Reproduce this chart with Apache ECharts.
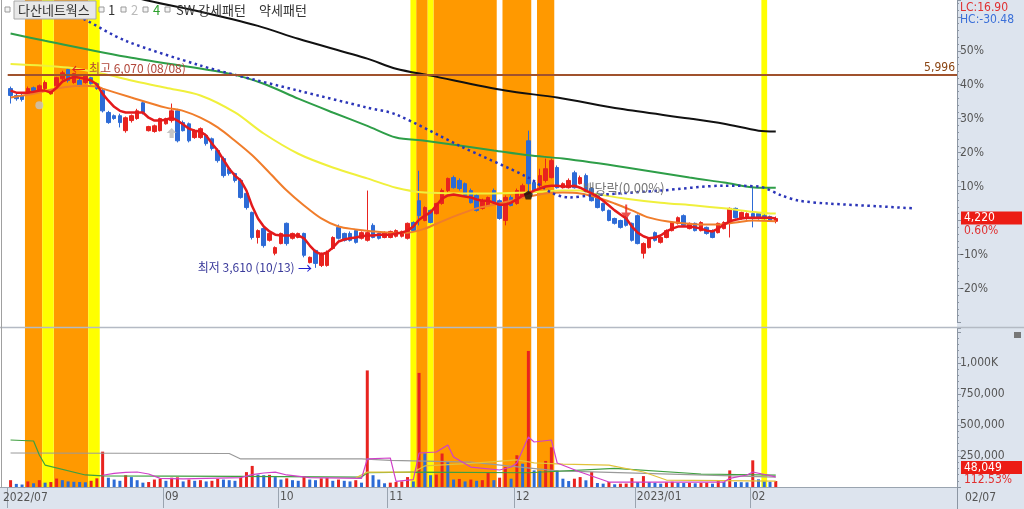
<!DOCTYPE html>
<html><head><meta charset="utf-8">
<script src="https://cdn.jsdelivr.net/npm/echarts@6.0.0/dist/echarts.min.js"></script>
<style>html,body{margin:0;padding:0;background:#fff}#c{width:1024px;height:509px}</style>
</head><body><div id="c"></div>
<script>
// ---------------- DATA ----------------
const holidays = ['2022-08-15','2022-09-09','2022-09-12','2022-10-03','2022-10-10','2022-12-30','2023-01-23','2023-01-24'];
const firstDay = '2022-07-25', lastDay = '2023-02-07';
const futureSlots = 31;
const tickLabels = {'2022-07-25':'2022/07','2022-09-01':'09','2022-10-04':'10','2022-11-01':'11','2022-12-01':'12','2023-01-02':'2023/01','2023-02-01':'02'};
const basePrice = 4195;

const opens = [5825,5740,5740,5760,5835,5800,5825,5760,5860,5945,6060,5900,5925,5900,5960,5885,5800,5530,5490,5490,5305,5430,5455,5650,5305,5295,5305,5390,5430,5550,5405,5390,5220,5220,5245,5205,5060,4960,4835,4775,4690,4530,4295,3985,4095,3950,3790,3910,4160,3975,3985,4035,3675,3825,3640,3640,3850,4110,4035,4035,4070,3975,3950,4135,4035,3985,3985,4000,4000,3975,4170,4440,4195,4320,4280,4405,4565,4725,4690,4650,4565,4505,4345,4380,4565,4440,4195,4480,4405,4480,5180,4665,4625,4690,4725,4850,4600,4600,4785,4650,4750,4590,4530,4405,4320,4220,4195,4230,4160,4255,3790,3860,4045,3925,3985,4070,4160,4255,4095,4160,4070,4110,4070,4045,4095,4160,4345,4220,4220,4280,4280,4255,4245,4185];
const closes = [5740,5700,5690,5825,5800,5860,5900,5800,5960,6020,5925,6010,5860,5985,5885,5825,5550,5405,5455,5405,5465,5490,5550,5530,5355,5365,5455,5455,5550,5180,5305,5180,5305,5330,5145,5085,4935,4750,4775,4690,4480,4355,3985,4070,3885,4035,3860,4035,3910,4035,4035,3765,3740,3665,3790,3800,3985,3975,3950,3950,3925,4045,4045,3985,3975,4045,4060,4070,4060,4160,4070,4255,4355,4170,4405,4565,4715,4600,4590,4505,4415,4320,4440,4480,4415,4220,4480,4380,4565,4625,4650,4565,4750,4835,4935,4600,4650,4690,4600,4725,4565,4440,4355,4320,4195,4160,4110,4135,3950,3910,3910,3975,3950,3985,4070,4170,4230,4135,4160,4070,4170,4035,3985,4160,4170,4345,4230,4295,4280,4220,4220,4220,4195,4220];
const lows = [5640,5675,5665,5750,5785,5785,5810,5750,5850,5925,5900,5885,5850,5885,5875,5810,5530,5390,5440,5345,5280,5405,5440,5505,5295,5280,5295,5380,5405,5160,5295,5160,5205,5205,5120,5060,4910,4725,4750,4665,4465,4330,3960,3910,3860,3935,3765,3900,3885,3960,3975,3740,3665,3610,3620,3625,3835,3960,3935,3935,3910,3960,3935,3975,3960,3975,3975,3985,3985,3960,4060,4135,4185,4160,4270,4390,4540,4590,4565,4490,4405,4305,4330,4370,4405,4205,4135,4370,4390,4465,4540,4540,4600,4665,4715,4590,4590,4590,4590,4640,4540,4430,4345,4305,4185,4145,4095,4120,3935,3900,3725,3850,3935,3910,3975,4060,4145,4120,4085,4060,4060,4020,3975,4035,4085,3985,4220,4205,4205,4110,4205,4205,4185,4160];
const highs = [5850,5760,5760,5850,5850,5875,5925,5810,5970,6045,6070,6020,5945,5995,5970,5900,5825,5550,5505,5515,5480,5505,5575,5675,5365,5380,5465,5465,5640,5575,5430,5405,5320,5345,5270,5220,5085,4985,4850,4785,4715,4540,4305,4085,4110,4045,3875,4045,4170,4045,4045,4045,3750,3835,3800,3825,4000,4145,4045,4060,4085,4060,4565,4160,4045,4060,4070,4085,4070,4170,4185,4810,4370,4330,4415,4590,4725,4750,4715,4665,4590,4530,4465,4490,4590,4455,4505,4505,4590,4650,5305,4690,4835,4960,4960,4875,4665,4715,4810,4750,4775,4600,4540,4415,4330,4230,4205,4255,4170,4270,3925,3985,4060,4000,4085,4185,4245,4270,4170,4170,4185,4120,4085,4170,4185,4355,4355,4305,4295,4600,4295,4270,4255,4245];
const volumes = [55000,25000,20000,45000,30000,55000,35000,40000,68000,55000,45000,42000,40000,38000,50000,70000,285000,75000,60000,50000,95000,80000,55000,35000,40000,60000,65000,50000,75000,78000,45000,60000,50000,55000,45000,50000,65000,60000,55000,50000,75000,120000,170000,100000,95000,98000,80000,60000,70000,55000,50000,85000,60000,55000,70000,72000,50000,60000,50000,45000,55000,35000,940000,95000,60000,30000,35000,40000,45000,80000,45000,920000,270000,95000,100000,270000,200000,60000,65000,45000,60000,50000,55000,120000,55000,75000,160000,67000,256000,188000,1097000,134000,130000,210000,320000,134000,67000,48000,67000,80000,54000,121000,32000,27000,40000,22000,27000,28000,72000,40000,88000,40000,35000,27000,38000,42000,35000,32000,33000,30000,32000,35000,27000,48000,40000,134000,40000,39000,38000,215000,62000,45000,42699,48049];

const ma5 = [5800,5775,5775,5775,5785,5800,5800,5775,5835,5910,5945,5970,5960,5945,5925,5875,5760,5675,5600,5550,5530,5530,5530,5530,5465,5430,5430,5440,5465,5430,5380,5330,5305,5295,5245,5145,5060,4945,4835,4750,4690,4565,4370,4220,4120,4060,4020,4010,4010,4010,4010,3975,3885,3810,3775,3800,3860,3935,3960,3975,3985,4000,4010,4010,4020,4020,4020,4035,4045,4070,4120,4205,4255,4295,4380,4465,4505,4515,4505,4490,4480,4455,4440,4440,4415,4390,4390,4415,4455,4505,4530,4565,4590,4615,4625,4625,4615,4615,4625,4600,4565,4530,4490,4440,4380,4320,4270,4220,4120,4045,4000,3975,3985,4010,4060,4095,4120,4120,4120,4110,4095,4070,4060,4095,4145,4185,4205,4220,4230,4230,4230,4230,4230,4220];
const ma20 = [[0,5715],[4,5760],[8,5825],[12,5860],[15,5850],[16,5825],[21,5715],[27,5590],[30,5550],[33,5465],[36,5345],[39,5180],[42,5000],[45,4785],[48,4565],[51,4380],[54,4220],[57,4120],[60,4085],[63,4060],[66,4045],[69,4045],[72,4095],[75,4185],[78,4270],[81,4345],[84,4390],[87,4440],[90,4490],[93,4530],[96,4540],[99,4530],[102,4480],[105,4405],[108,4320],[111,4230],[114,4185],[117,4160],[120,4145],[123,4145],[126,4170],[129,4195],[133,4185]];
const ma60 = [[0,6130],[10,6085],[16,6010],[21,5925],[27,5835],[33,5740],[39,5530],[44,5270],[50,5020],[56,4850],[62,4715],[67,4600],[72,4540],[78,4530],[84,4530],[90,4540],[96,4565],[99,4565],[101,4530],[107,4465],[113,4415],[119,4380],[124,4345],[130,4295],[133,4280]];
const ma120 = [[0,6505],[6,6415],[21,6205],[38,6010],[44,5885],[50,5700],[56,5530],[62,5365],[67,5220],[72,5180],[84,5060],[90,5000],[96,4960],[107,4850],[118,4725],[124,4665],[130,4600],[133,4600]];
const ma240 = [[10,7160],[24,6910],[33,6775],[43,6600],[50,6440],[62,6195],[67,6070],[73,5985],[86,5800],[95,5715],[106,5575],[118,5455],[124,5390],[130,5305],[133,5295]];
const leadSpan = [[8,6850],[13,6675],[20,6415],[33,6110],[39,5995],[50,5800],[62,5590],[67,5505],[78,5120],[90,4725],[94,4540],[97,4480],[101,4505],[113,4565],[124,4625],[130,4615],[134,4505],[137,4440],[142,4405],[151,4370],[157,4345]];

const volMa5 = [[16,95000],[18,110000],[20,118000],[22,121000],[24,105000],[26,70000],[30,65000],[40,75000],[42,100000],[44,113000],[46,120000],[48,97000],[52,75000],[61,70000],[62,226000],[66,234000],[67,45000],[70,60000],[71,274000],[74,282000],[76,339000],[77,242000],[80,161000],[85,137000],[87,161000],[88,194000],[90,403000],[91,363000],[94,379000],[95,194000],[99,121000],[104,40000],[124,40000],[125,70000],[128,97000],[129,121000],[133,81000]];
const volMa20 = [[60,75000],[62,120000],[70,120000],[72,170000],[80,190000],[88,218000],[91,194000],[96,185000],[104,177000],[110,121000],[114,56000],[133,48000]];
const volMa60 = [[0,379000],[4,371000],[5,258000],[6,177000],[13,97000],[16,89000],[40,85000],[61,80000],[62,115000],[70,120000],[90,115000],[105,150000],[120,105000],[133,95000]];
const volMa120 = [[0,274000],[38,270000],[40,226000],[61,226000],[66,215000],[80,200000],[95,130000],[133,80000]];

const orangeBands = [[3,5],[8,13],[71,72],[74,84],[86,90],[92,94]];
const yellowBands = [[6,7],[14,15],[70,70],[73,73],[131,131]];

const markers = [
  {i:5, p:5620, kind:'dot'},
  {i:28, p:5275, kind:'up'},
  {i:90, p:4510, kind:'pent'},
  {i:107, p:4300, kind:'down'}
];
const highMark = {i:10, p:6070, text:'최고 6,070 (08/08)'};
const lowMark = {i:53, p:3610, text:'최저 3,610 (10/13)'};
const divMark = {i:99, p:4600, text:'배당락(0.00%)'};
const refLine = 5996;
const lastClose = 4220, lastPct = '0.60%', lastVol = '48,049', volPct = '112.53%';
const lcText = 'LC:16.90', hcText = 'HC:-30.48', curDate = '02/07';

// ---------------- BUILD ----------------
function buildDates(){
  const out=[]; let t=Date.parse(firstDay+'T00:00:00Z'); const end=Date.parse(lastDay+'T00:00:00Z');
  while(t<=end){ const d=new Date(t); const wd=d.getUTCDay(); const s=d.toISOString().slice(0,10);
    if(wd!==0&&wd!==6&&holidays.indexOf(s)<0) out.push(s); t+=86400000; }
  return out;
}
const dates = buildDates();
const cats = dates.slice();
for(let k=0;k<futureSlots;k++) cats.push('f'+k);
const labelIdx = {};
cats.forEach((c,i)=>{ if(tickLabels[c]) labelIdx[i]=tickLabels[c]; });

const UP='#e8231f', DOWN='#2d6bd6', ORANGE='#ff9900', YELLOW='#ffff00';
const NARROW="'Liberation Sans Narrow','DejaVu Sans Condensed','Liberation Sans',sans-serif";
const KR="'Noto Sans CJK KR','Noto Sans',sans-serif";

const bandRanges = orangeBands.map(r=>[r[0],r[1],0]).concat(yellowBands.map(r=>[r[0],r[1],1]));
const bandRender = (params, api)=>{
  const s=api.value(0), e=api.value(1);
  const p0=api.coord([s,0]), p1=api.coord([e,1]);
  const w=api.size([1,0])[0];
  return {type:'rect',shape:{x:p0[0]-w/2,y:p1[1],width:p1[0]-p0[0]+w,height:p0[1]-p1[1]},
    style:{fill:api.value(2)===0?ORANGE:YELLOW}};
};
const ohlc = opens.map((o,i)=>[o,closes[i],lows[i],highs[i]]);
const volData = volumes.map((v,i)=>({value:v,itemStyle:{color:(i===0||v>=volumes[i-1])?UP:DOWN}}));

const symPath = {
  dot:'circle',
  up:'path://M0,-6 L6,0 L2.5,0 L2.5,6 L-2.5,6 L-2.5,0 L-6,0 Z',
  pent:'path://M0,-5 L5,-1.5 L3,5 L-3,5 L-5,-1.5 Z',
  down:'path://M-1,-12 L1,-12 L1,-4 L5,-4 L0,3 L-5,-4 L-1,-4 Z'
};
const symColor = {dot:'#c4c4c4', up:'#b8b8b8', pent:'#111', down:'#e8231f'};
const symSize = {dot:8, up:10, pent:9, down:[10,15]};

const G = {left:7.7, right:67};
const lineS = (data,color,width,extra)=>Object.assign({type:'line',xAxisIndex:1,yAxisIndex:1,data,showSymbol:false,symbol:'none',smooth:0.3,
  lineStyle:{color,width},z:4,silent:true,animation:false},extra||{});
const vLine = (data,color)=>({type:'line',xAxisIndex:2,yAxisIndex:2,data,showSymbol:false,symbol:'none',lineStyle:{color,width:1.2},z:4,silent:true,animation:false});

const chart = echarts.init(document.getElementById('c'));
const option = {
  animation:false,
  backgroundColor:'#ffffff',
  grid:[
    {left:G.left,right:G.right,top:0,height:327},
    {left:G.left,right:G.right,top:0,height:322.35},
    {left:G.left,right:G.right,top:328,height:159}
  ],
  xAxis:[
    {gridIndex:0,type:'category',data:cats,show:false},
    {gridIndex:1,type:'category',data:cats,show:false},
    {gridIndex:2,type:'category',data:cats,position:'bottom',
      axisLine:{show:false},
      axisTick:{show:true,length:21,interval:(i)=>labelIdx[i]!==undefined,lineStyle:{color:'#9aa4b0'}},
      axisLabel:{show:true,interval:(i)=>labelIdx[i]!==undefined&&i>0,formatter:(v,i)=>i>0?(labelIdx[i]||''):'',align:'left',margin:4,
        color:'#555',fontSize:12,fontFamily:NARROW,padding:[0,0,0,-1]},
      splitLine:{show:false}}
  ],
  yAxis:[
    {gridIndex:0,type:'value',min:0,max:1,show:false},
    {gridIndex:1,type:'value',position:'right',min:2936.5,max:6919.6,interval:419.5,scale:false,
      axisLine:{show:true,lineStyle:{color:'#8c96a3'}},
      axisTick:{show:true,length:4,lineStyle:{color:'#8c96a3'}},
      minorTick:{show:true,splitNumber:5,length:2,lineStyle:{color:'#8c96a3'}},
      splitLine:{show:false},
      axisLabel:{margin:3,color:'#555',fontSize:12,fontFamily:NARROW,
        formatter:(v)=>{const p=Math.round((v/basePrice-1)*100);return (p>=-20&&p<=50&&p!==0&&Math.abs(v-basePrice*(1+p/100))<1)?p+'%':'';}}},
    {gridIndex:2,type:'value',position:'right',min:0,max:1282000,interval:250000,
      axisLine:{show:true,lineStyle:{color:'#8c96a3'}},
      axisTick:{show:true,length:4,lineStyle:{color:'#8c96a3'}},
      minorTick:{show:true,splitNumber:5,length:2,lineStyle:{color:'#8c96a3'}},
      splitLine:{show:false},
      axisLabel:{margin:3,color:'#555',fontSize:12,fontFamily:NARROW,
        formatter:(v)=>v===1000000?'1,000K':((v>0&&v<1000000)?v.toLocaleString('en-US'):'')}},
    {gridIndex:2,type:'value',min:0,max:1,show:false}
  ],
  series:[
    {type:'custom',xAxisIndex:0,yAxisIndex:0,data:bandRanges,renderItem:bandRender,encode:{x:[0,1]},z:0,silent:true},
    {type:'custom',xAxisIndex:2,yAxisIndex:3,data:bandRanges,renderItem:bandRender,encode:{x:[0,1]},z:0,silent:true},
    {type:'candlestick',xAxisIndex:1,yAxisIndex:1,data:ohlc,barWidth:4,z:3,silent:true,
      itemStyle:{color:UP,color0:DOWN,borderColor:UP,borderColor0:DOWN,borderWidth:1},
      markLine:{silent:true,symbol:'none',animation:false,
        data:[{yAxis:refLine}],
        lineStyle:{color:'#a0522d',width:2,type:'solid'},
        label:{show:true,position:'insideEndTop',formatter:'5,996',color:'#8b4513',fontSize:12,fontFamily:NARROW,distance:[2,1]}},
      markPoint:{silent:true,animation:false,symbol:'rect',symbolSize:1,itemStyle:{color:'rgba(0,0,0,0)'},
        data:[
          {coord:[highMark.i,highMark.p],label:{show:true,position:'right',distance:3,
            formatter:'{a|←} {b|'+highMark.text+'}',
            rich:{a:{color:'#e0201c',fontSize:14,fontFamily:KR},b:{color:'#b2473a',fontSize:12,fontFamily:KR}}}},
          {coord:[lowMark.i,lowMark.p],label:{show:true,position:'left',distance:3,
            formatter:'{b|'+lowMark.text+'} {a|→}',
            rich:{a:{color:'#2020d0',fontSize:14,fontFamily:KR},b:{color:'#3b3b9b',fontSize:12,fontFamily:KR}}}},
          {coord:[divMark.i,divMark.p],label:{show:true,position:'right',distance:2,formatter:divMark.text,color:'#777',fontSize:13,fontFamily:KR}}
        ]}},
    lineS(ma240,'#111111',2),
    lineS(ma120,'#2e9e48',2),
    lineS(ma60,'#f0f03c',2),
    lineS(ma20,'#f07d2b',2),
    lineS(leadSpan,'#2b35b8',2.5,{smooth:0.3,lineStyle:{color:'#2b35b8',width:2.5,type:[2.5,3.5]}}),
    lineS(ma5,'#e31a1c',2.5,{smooth:false,z:5}),
    {type:'scatter',xAxisIndex:1,yAxisIndex:1,z:6,silent:true,
      data:markers.map(m=>({value:[m.i,m.p],symbol:symPath[m.kind],symbolSize:symSize[m.kind],itemStyle:{color:symColor[m.kind]}}))},
    {type:'bar',xAxisIndex:2,yAxisIndex:2,data:volData,barWidth:3,z:3,silent:true},
    vLine(volMa120,'#9a9a9a'),
    vLine(volMa60,'#3f9f3f'),
    vLine(volMa20,'#e2c23a'),
    vLine(volMa5,'#d040c8')
  ],
  graphic:[]
};
chart.setOption(option);

// overlay graphics (panels, texts)
const yPrice = chart.convertToPixel({yAxisIndex:1}, lastClose);
const g = [];
g.push({type:'rect',z:-10,shape:{x:957,y:0,width:67,height:509},style:{fill:'#dde4ee'},silent:true});
g.push({type:'rect',z:-10,shape:{x:0,y:488,width:957,height:21},style:{fill:'#dde4ee'},silent:true});
g.push({type:'line',z:50,shape:{x1:0,y1:327.5,x2:1024,y2:327.5},style:{stroke:'#b4bac4',lineWidth:1.5},silent:true});
g.push({type:'line',z:50,shape:{x1:0,y1:487.5,x2:957,y2:487.5},style:{stroke:'#9aa4b0',lineWidth:1},silent:true});
g.push({type:'line',z:50,shape:{x1:957.5,y1:487,x2:957.5,y2:509},style:{stroke:'#8c96a3',lineWidth:1},silent:true});
g.push({type:'line',z:50,shape:{x1:1.5,y1:0,x2:1.5,y2:488},style:{stroke:'#a0a0a0',lineWidth:1},silent:true});
g.push({type:'text',z:60,x:3,y:498,style:{text:labelIdx[0],fill:'#555',font:'12px '+NARROW,verticalAlign:'middle'},silent:true});
// legend
const sq=(x)=>({type:'rect',z:60,shape:{x:x,y:7,width:5,height:5},style:{fill:'#f4f4f4',stroke:'#9a9a9a',lineWidth:1},silent:true});
g.push(sq(5));
g.push({type:'rect',z:59,shape:{x:14,y:1,width:82,height:18},style:{fill:'#e8e8e8',stroke:'#a8a8a8',lineWidth:1},silent:true});
g.push({type:'text',z:60,x:18,y:10,style:{text:'다산네트웍스',fill:'#333',font:'13px '+KR,verticalAlign:'middle'},silent:true});
g.push(sq(99));
g.push({type:'text',z:60,x:108,y:10,style:{text:'1',fill:'#333',font:'13px '+KR,verticalAlign:'middle'},silent:true});
g.push(sq(121));
g.push({type:'text',z:60,x:131,y:10,style:{text:'2',fill:'#bbbbbb',font:'13px '+KR,verticalAlign:'middle'},silent:true});
g.push(sq(143));
g.push({type:'text',z:60,x:153,y:10,style:{text:'4',fill:'#2ca02c',font:'13px '+KR,verticalAlign:'middle'},silent:true});
g.push(sq(165));
g.push({type:'text',z:60,x:176,y:10,style:{text:'SW 강세패턴',fill:'#333',font:'13px '+KR,verticalAlign:'middle'},silent:true});
g.push({type:'text',z:60,x:259,y:10,style:{text:'약세패턴',fill:'#333',font:'13px '+KR,verticalAlign:'middle'},silent:true});
// right panel texts
g.push({type:'text',z:60,x:960,y:8,style:{text:lcText,fill:'#e03030',font:'12px '+NARROW,verticalAlign:'middle'},silent:true});
g.push({type:'text',z:60,x:960,y:20,style:{text:hcText,fill:'#3a6fd8',font:'12px '+NARROW,verticalAlign:'middle'},silent:true});
g.push({type:'rect',z:60,shape:{x:961,y:yPrice-7,width:61,height:13},style:{fill:'#ec1c14'},silent:true});
g.push({type:'text',z:61,x:964,y:yPrice-0.5,style:{text:lastClose.toLocaleString('en-US'),fill:'#fff',font:'12px '+NARROW,verticalAlign:'middle'},silent:true});
g.push({type:'text',z:61,x:964,y:yPrice+12,style:{text:lastPct,fill:'#e03030',font:'12px '+NARROW,verticalAlign:'middle'},silent:true});
g.push({type:'rect',z:60,shape:{x:961,y:461,width:61,height:13},style:{fill:'#ec1c14'},silent:true});
g.push({type:'text',z:61,x:964,y:467.5,style:{text:lastVol,fill:'#fff',font:'12px '+NARROW,verticalAlign:'middle'},silent:true});
g.push({type:'text',z:61,x:964,y:480,style:{text:volPct,fill:'#e03030',font:'12px '+NARROW,verticalAlign:'middle'},silent:true});
g.push({type:'rect',z:60,shape:{x:1014,y:332,width:7,height:6},style:{fill:'#777'},silent:true});
g.push({type:'text',z:61,x:965,y:498,style:{text:curDate,fill:'#555',font:'12px '+NARROW,verticalAlign:'middle'},silent:true});
chart.setOption({graphic:g});
</script>
</body></html>
